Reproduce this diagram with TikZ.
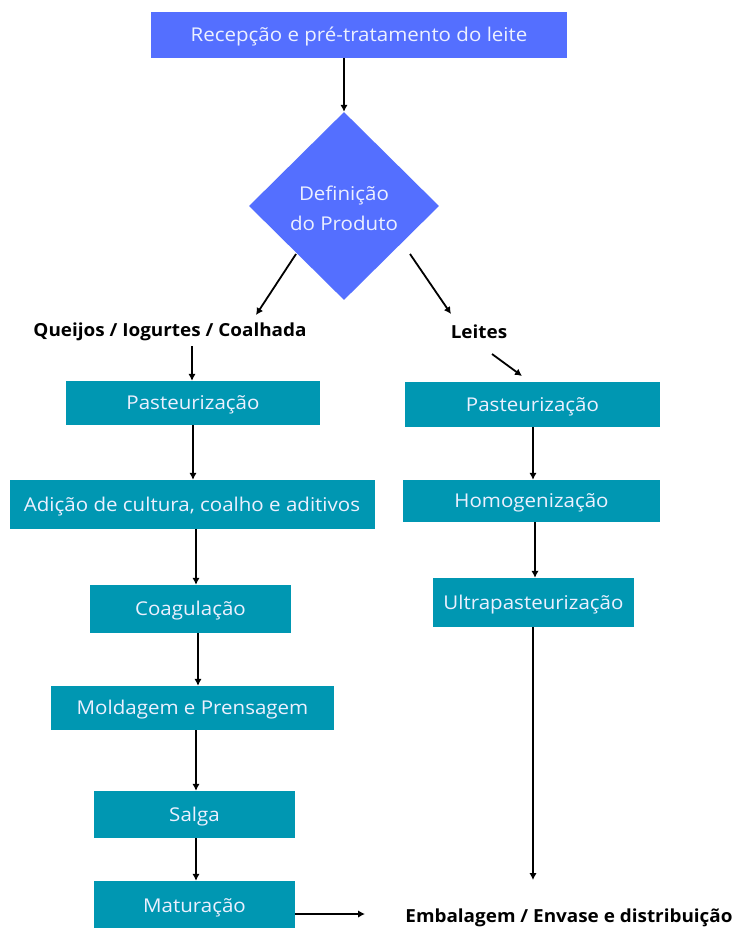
\documentclass[tikz,border=0pt]{standalone}
\usepackage{fontspec}
\setmainfont{Open Sans}
\newfontfamily\boxfont[FakeStretch=1.08]{Open Sans}
\newfontfamily\lblfont[FakeStretch=1.05]{Open Sans Bold}
\usetikzlibrary{shapes.geometric,arrows.meta}
\definecolor{bluebox}{RGB}{84,111,255}
\definecolor{tealbox}{RGB}{0,151,178}
\definecolor{boxtext}{RGB}{236,240,255}
\tikzset{
  conn/.style={line width=1.8pt,-{Latex[length=7pt,width=7.5pt]}},
  boxbase/.style={rectangle,inner sep=0pt,text=boxtext,text height=13pt,text depth=0pt,font=\boxfont\fontsize{19}{22}\selectfont},
  bluestep/.style={boxbase,fill=bluebox},
  tealstep/.style={boxbase,fill=tealbox},
  lbl/.style={inner sep=0pt,font=\lblfont\fontsize{18}{22}\selectfont,text=black}
}
\begin{document}
\begin{tikzpicture}[x=1pt,y=-1pt]
\useasboundingbox (0,0) rectangle (737,928);
\fill[white] (0,0) rectangle (737,928);
% top
\node[bluestep,minimum width=416pt,minimum height=46pt] (rec) at (359,35) {Recepção e pré-tratamento do leite};
\node[diamond,fill=bluebox,inner sep=0pt,minimum width=190pt,minimum height=188pt,text=boxtext,align=center,font=\boxfont\fontsize{19}{30}\selectfont] (def) at (344,206) {};
\node[text=boxtext,align=center,inner sep=0pt,font=\boxfont\fontsize{19}{30}\selectfont] (deft) at (344,208) {Definição\\do Produto};
\draw[conn] (rec.south -| def.north) -- (def.north);
% labels
\node[lbl] (q) at (170,332) {Queijos / Iogurtes / Coalhada};
\node[lbl] (l) at (479,332) {Leites};
\coordinate (dl) at (296,254);
\coordinate (dle) at (256,315);
\coordinate (dr) at (410,254);
\coordinate (dre) at (451,314);
\draw[conn] (dl) -- (dle);
\draw[conn] (dr) -- (dre);
% left column
\node[tealstep,minimum width=254pt,minimum height=44pt] (p1) at (193,403) {Pasteurização};
\node[tealstep,minimum width=365pt,minimum height=49pt] (ad) at (192,504.5) {Adição de cultura, coalho e aditivos};
\node[tealstep,minimum width=201pt,minimum height=48pt] (co) at (190.5,609) {Coagulação};
\node[tealstep,minimum width=283pt,minimum height=44pt] (mo) at (192.5,708) {Moldagem e Prensagem};
\node[tealstep,minimum width=201pt,minimum height=47pt] (sa) at (194.5,814.5) {Salga};
\node[tealstep,minimum width=201pt,minimum height=50pt] (ma) at (194.5,906) {Maturação};
% right column
\node[tealstep,minimum width=255pt,minimum height=45pt] (p2) at (532.5,404.5) {Pasteurização};
\node[tealstep,minimum width=257pt,minimum height=42pt] (ho) at (531.5,501) {Homogenização};
\node[tealstep,minimum width=201pt,minimum height=49pt] (ul) at (533.5,602.5) {Ultrapasteurização};
\node[lbl] (em) at (569,918) {Embalagem / Envase e distribuição};
% connectors left
\coordinate (qa) at (192,346);
\draw[conn] (qa) -- (qa |- p1.north);
\draw[conn] (193,425) coordinate (a1) -- (a1 |- ad.north);
\draw[conn] (196,529) coordinate (a2) -- (a2 |- co.north);
\draw[conn] (198,633) coordinate (a3) -- (a3 |- mo.north);
\draw[conn] (196,730) coordinate (a4) -- (a4 |- sa.north);
\draw[conn] (196,838) coordinate (a5) -- (a5 |- ma.north);
\coordinate (me) at (365,914);
\draw[conn] (ma.east |- me) -- (me);
% connectors right
\coordinate (la) at (492,354);
\coordinate (lb) at (522,376);
\draw[conn] (la) -- (lb);
\draw[conn] (533,427) coordinate (b1) -- (b1 |- ho.north);
\draw[conn] (535,522) coordinate (b2) -- (b2 |- ul.north);
\coordinate (be) at (533,880);
\draw[conn] (ul.south -| be) -- (be);
\end{tikzpicture}
\end{document}
